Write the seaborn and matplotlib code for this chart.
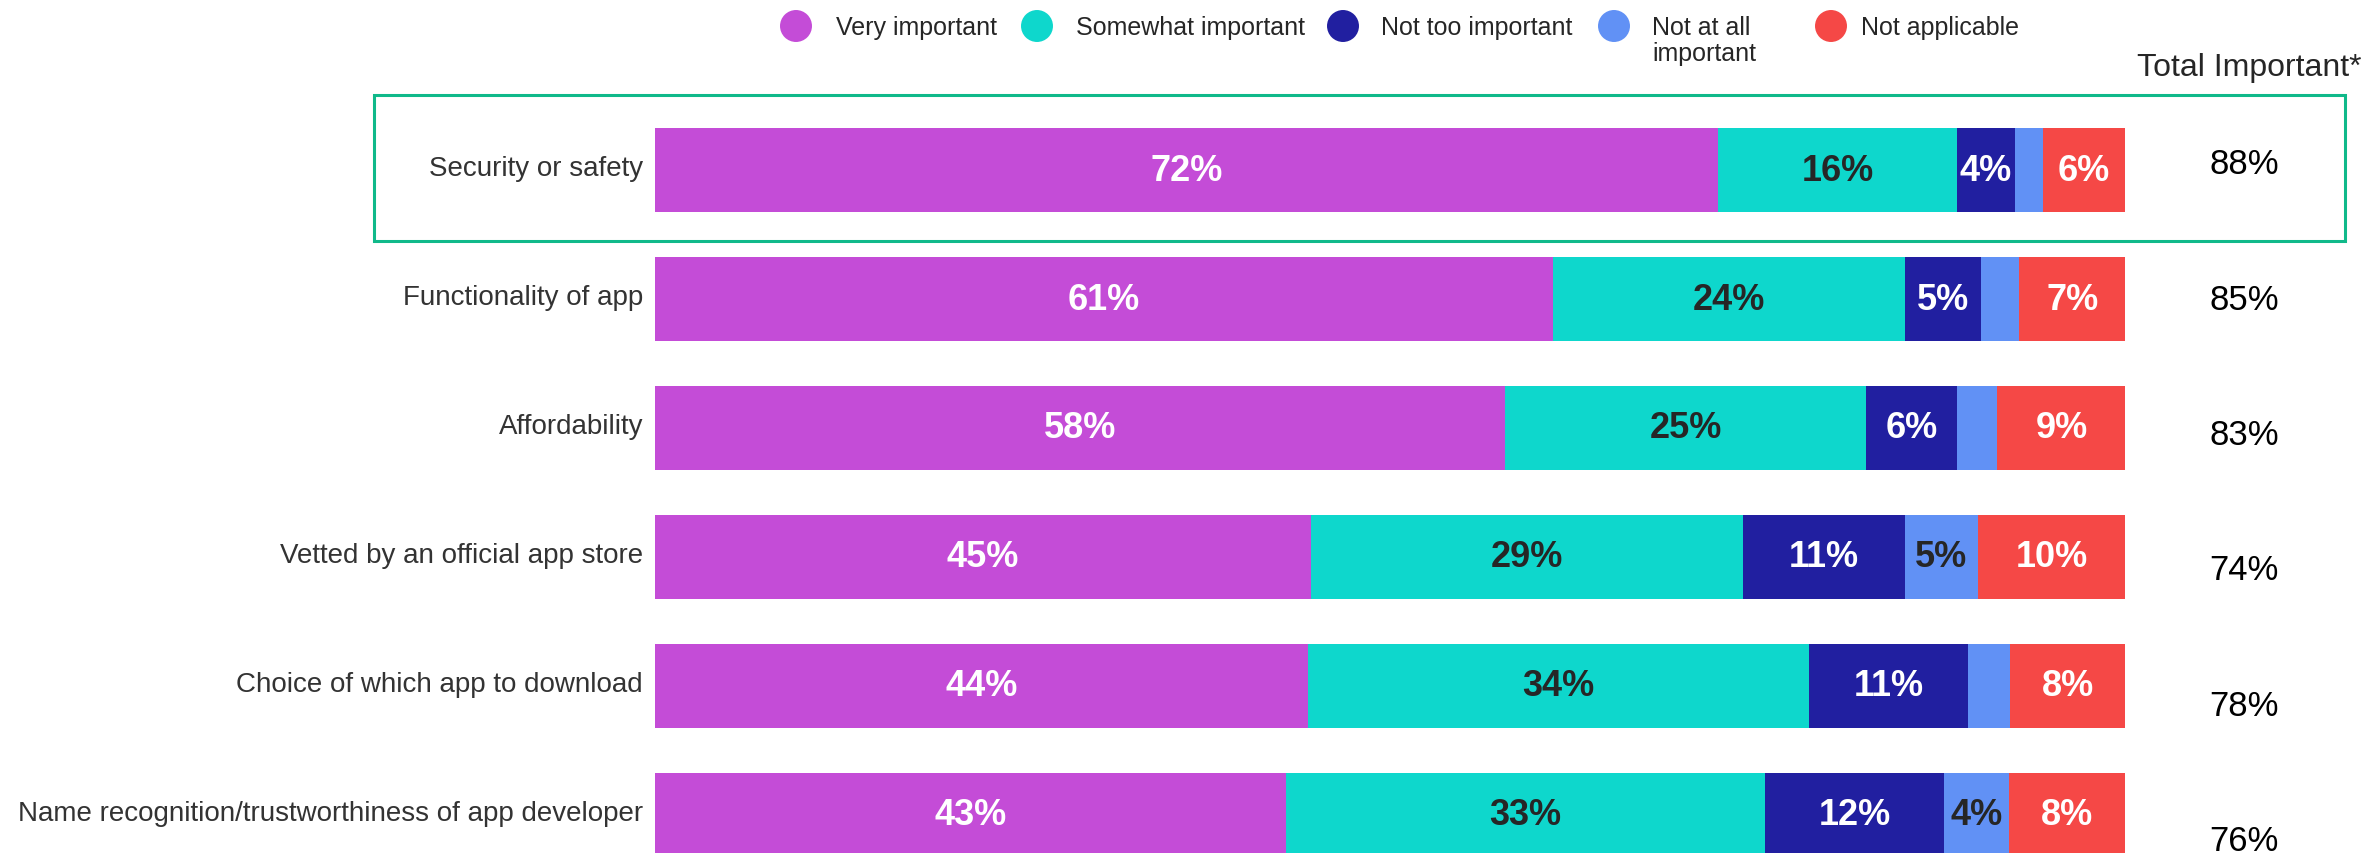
import matplotlib.pyplot as plt
import matplotlib.transforms as mtransforms
import seaborn as sns
from matplotlib.patches import Rectangle


# data
categories = ['Security or safety', 'Functionality of app', 'Affordability',
              'Vetted by an official app store', 'Choice of which app to download',
              'Name recognition/trustworthiness of app developer']
very_important = [72.3, 61.1, 57.8, 44.6, 44.4, 42.9]
somewhat_important = [16.3, 23.9, 24.6, 29.4, 34.1, 32.6]
not_too_important = [3.9, 5.2, 6.2, 11.0, 10.8, 12.2]
not_at_all_important = [1.9, 2.6, 2.7, 5.0, 2.9, 4.4]
not_applicable = [5.6, 7.3, 8.8, 10.0, 7.8, 7.9]
total_important = [88, 85, 83, 74, 78, 76]

series_names = ['Very important', 'Somewhat important', 'Not too important',
                'Not at all\nimportant', 'Not applicable']
series = [very_important, somewhat_important, not_too_important,
          not_at_all_important, not_applicable]
colors = ['#C44CD7', '#0ED7CC', '#211FA0', '#6191F5', '#F54846']
text_colors = ['white', '#262626', 'white', '#262626', 'white']

sns.set_style('white')
plt.rcParams['font.family'] = ['Liberation Sans', 'DejaVu Sans']

W, H = 2367, 854
fig = plt.figure(figsize=(W / 100, H / 100), dpi=100)
ax = fig.add_axes([655 / W, 0, 1470 / W, 1])

# cumulative sums, drawn back to front to get stacked bars
cums = []
run = [0] * len(categories)
for s in series:
    run = [a + b for a, b in zip(run, s)]
    cums.append(run)

for k in reversed(range(len(series))):
    sns.barplot(x=cums[k], y=categories, color=colors[k], width=0.651,
                saturation=1, linewidth=0, orient='h', ax=ax)

for k, s in enumerate(series):
    for i, v in enumerate(s):
        if v < 3.5:
            continue
        center = cums[k][i] - v / 2
        ax.text(center, i, f'{round(v)}%', ha='center', va='center',
                fontsize=26, fontweight='bold', color=text_colors[k])

ax.set_xlim(0, 100)
ax.set_ylim(5.2946, -1.3256)
ax.set_xticks([])
ax.set_xlabel('')
ax.set_ylabel('')
ax.tick_params(axis='y', length=0, pad=8.6, labelsize=20, labelcolor='#333333')
# labels sit a little above the bar centre in the original
shift = mtransforms.ScaledTranslation(0, 3.6 / 72, fig.dpi_scale_trans)
for lab in ax.get_yticklabels():
    lab.set_transform(lab.get_transform() + shift)
sns.despine(ax=ax, left=True, bottom=True)

# overlay in pixel coordinates for legend, totals and highlight box
lax = fig.add_axes([0, 0, 1, 1])
lax.set_xlim(0, W)
lax.set_ylim(H, 0)
lax.axis('off')

legend_x = [796, 1037, 1343, 1614, 1831]
legend_text_x = [836, 1076, 1381, 1652, 1861]
lax.scatter(legend_x, [27] * 5, s=530, c=colors, linewidths=0)
for name, tx in zip(series_names, legend_text_x):
    lax.text(tx, 16, name, ha='left', va='top', fontsize=18,
             color='#262626', linespacing=1.1)

lax.text(2249, 68, 'Total Important*', ha='center', va='center',
         fontsize=23, color='#262626')
for i, t in enumerate(total_important):
    lax.text(2244, 165 + 135.3 * i, f'{t}%', ha='center', va='center',
             fontsize=25, color='black')

lax.add_patch(Rectangle((374, 95.5), 1970.5, 146, fill=False,
                        edgecolor='#10B98A', linewidth=2.2))

fig.savefig('out.png', dpi=100)
